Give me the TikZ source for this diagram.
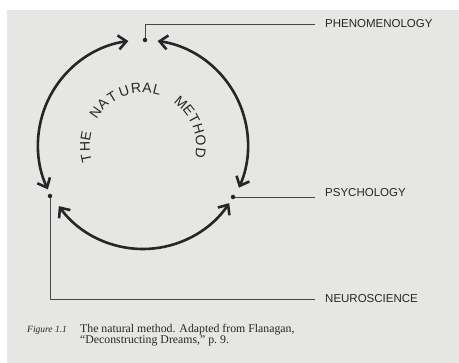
\documentclass[tikz,border=0pt]{standalone}
\usepackage{fontspec}
\setmainfont{Liberation Serif}
\newfontfamily\labelfont{Liberation Sans}
\usetikzlibrary{arrows.meta,calc}
\definecolor{paper}{RGB}{230,230,228}
\definecolor{ink}{RGB}{38,38,38}
\tikzset{
  fielddot/.style={circle,fill=ink,inner sep=0pt,minimum size=4.5pt},
  fieldlab/.style={anchor=west,inner xsep=10pt,inner ysep=0pt,text=ink,
    font=\labelfont\fontsize{11.5}{12}\selectfont},
  leader/.style={draw=ink!85,line width=0.9pt},
  cycleArrow/.style={{Straight Barb[length=8pt,width=14pt]}-{Straight Barb[length=8pt,width=14pt]},
    line width=2.6pt,draw=ink},
  arcletter/.style={inner sep=0pt,text=ink,font=\labelfont\fontsize{14}{14}\selectfont},
  captext/.style={anchor=base west,inner sep=0pt,text=ink,align=left,
    font=\fontsize{11.8}{11}\selectfont}
}

\begin{document}
\begin{tikzpicture}[x=1pt,y=1pt]
  \fill[paper] (7,0) rectangle (459,353);
  \useasboundingbox (0,0) rectangle (459,363);
  \coordinate (c) at (143,218);
  \coordinate (t) at (143,217);
  \node[fielddot] (phen) at (145,323) {};
  \node[fielddot] (neuro) at (50,167) {};
  \node[fielddot] (psy) at (233,166) {};
  \node[fieldlab] (phenlab) at (315,339) {PHENOMENOLOGY};
  \node[fieldlab] (psylab) at (315,170) {PSYCHOLOGY};
  \node[fieldlab] (neurolab) at (315,64) {NEUROSCIENCE};
  \draw[leader] (phen) |- (phenlab.west);
  \draw[leader] (psy) -- (psy -| psylab.west);
  \draw[leader] (neuro) |- (neurolab.west);
  % the cycle
  \draw[cycleArrow] ($(c)+(98:105)$) arc[start angle=98,end angle=205,radius=105];
  \draw[cycleArrow] ($(c)+(82:105)$) arc[start angle=82,end angle=-24,radius=105];
  \draw[cycleArrow] ($(c)+(216:104)$) arc[start angle=216,end angle=326,radius=104];
  % THE NATURAL METHOD, one letter at a time
  \foreach \ch/\ang in {T/192,H/181,E/170,N/145,A/134,T/122,U/109,R/97,A/86,L/76,
                        M/49,E/38,T/28,H/17,O/6,D/-7}
    \node[arcletter,rotate=\ang-90] at ($(t)+(\ang:58)$) {\ch};
  % caption
  \node[captext,font=\itshape\fontsize{9.5}{11}\selectfont] (fignum) at (27,30) {Figure 1.1};
  \node[captext] (figcap) at (80,19)
    {The natural method. Adapted from Flanagan,\\
     ``Deconstructing Dreams,'' p.~9.};
\end{tikzpicture}
\end{document}
